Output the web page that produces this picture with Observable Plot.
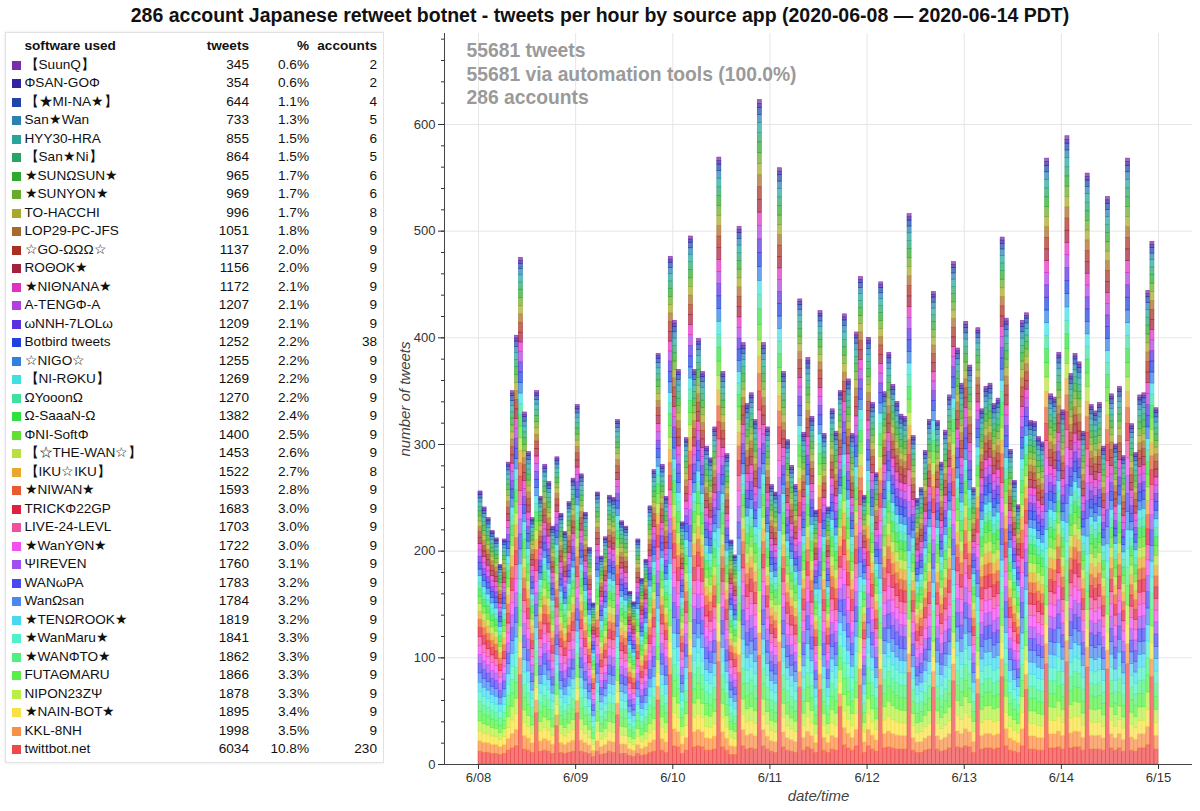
<!DOCTYPE html>
<html><head><meta charset="utf-8">
<script src="https://cdn.jsdelivr.net/npm/d3@7"></script>
<script src="https://cdn.jsdelivr.net/npm/@observablehq/plot@0.6"></script>
<style>
html,body{margin:0;padding:0;background:#fff;}
body{width:1200px;height:811px;position:relative;overflow:hidden;font-family:"Liberation Sans",Arial,Helvetica,sans-serif;color:#111;}
#title{position:absolute;left:0;top:4px;width:1200px;text-align:center;font-weight:bold;font-size:19.5px;line-height:22px;color:#111;}
#legend{position:absolute;left:5px;top:32px;width:379px;height:731px;border:1px solid #e2e2e2;box-sizing:border-box;box-shadow:0 0 3px rgba(0,0,0,0.10);font-size:13.6px;}
.row{position:absolute;left:0;width:100%;height:18.5px;line-height:18.5px;white-space:nowrap;}
.sw{position:absolute;left:6px;top:5px;width:9px;height:9px;}
.nm{position:absolute;left:18.5px;}
.tw{position:absolute;right:134px;}
.pc{position:absolute;right:74px;}
.ac{position:absolute;right:6px;}
.hd{font-weight:bold;}
#chart{position:absolute;left:384px;top:28px;}
</style>
</head><body>
<div id="title"></div>
<div id="legend"></div>
<div id="chart"></div>
<script>
// ---------- data ----------
const titleText = "286 account Japanese retweet botnet - tweets per hour by source app (2020-06-08 \u2014 2020-06-14 PDT)";
const sources = ["【SuunQ】","ΦSAN-GOΦ","【★MI-NA★】","San★Wan","HYY30-HRA","【San★Ni】","★SUNΩSUN★","★SUNYON★","TO-HACCHI","LOP29-PC-JFS","☆GO-ΩΩΩ☆","ROΘOK★","★NIΘNANA★","A-TENGΦ-A","ωNNH-7LOLω","Botbird tweets","☆NIGO☆","【NI-RΘKU】","ΩYooonΩ","Ω-SaaaN-Ω","ΦNI-SoftΦ","【☆THE-WAN☆】","【IKU☆IKU】","★NIWAN★","TRICKΦ22GP","LIVE-24-LEVL","★WanYΘN★","ΨIREVEN","WANωPA","WanΩsan","★TENΩROOK★","★WanMaru★","★WANΦTO★","FUTAΘMARU","NIPON23ZΨ","★NAIN-BOT★","KKL-8NH","twittbot.net"];
const tweets = [345,354,644,733,855,864,965,969,996,1051,1137,1156,1172,1207,1209,1252,1255,1269,1270,1382,1400,1453,1522,1593,1683,1703,1722,1760,1783,1784,1819,1841,1862,1866,1878,1895,1998,6034];
const accounts = [2,2,4,5,6,5,6,6,8,9,9,9,9,9,9,38,9,9,9,9,9,9,8,9,9,9,9,9,9,9,9,9,9,9,9,9,9,230];
const colors = ["#7a2ea8","#3420a2","#1f45a6","#2a80b0","#26a69a","#2aa366","#2ea82e","#6aaa2a","#a8a82a","#a86a2a","#a83022","#a3203f","#e030c0","#b040e0","#5a30e0","#2040e0","#3080e0","#40e0e0","#40e0a0","#30e040","#60e030","#b8e040","#e8a830","#e85a30","#e02040","#f050a0","#f050f0","#a050f0","#4848f0","#4888f0","#48d8f0","#50f0c8","#50f080","#58f048","#b8f048","#f8e048","#f89048","#f04848"];
const totalAccounts = 286;
// tweets per hour (all apps), 2020-06-08 00:00 .. 2020-06-14 23:00 PDT
const hourlyTotals = [
 256,241,231,219,212,187,211,283,350,402,475,330,293,231,350,251,281,265,223,288,235,218,246,268,
 337,272,236,203,151,255,195,213,252,250,323,228,223,162,152,211,174,192,242,276,385,281,251,476,
 416,370,227,306,495,370,399,368,298,287,316,569,368,291,210,196,504,395,338,348,323,623,395,316,
 262,255,559,368,304,280,262,436,311,381,326,238,425,310,241,333,312,350,422,361,310,405,457,252,
 400,339,273,452,349,386,356,340,328,326,516,308,249,259,294,323,443,322,283,313,346,471,390,357,
 415,374,259,409,333,354,357,338,343,494,418,295,266,243,416,423,322,321,307,302,568,347,344,386,
 332,589,366,385,377,312,554,337,331,339,298,532,347,300,354,289,568,319,292,346,348,444,490,334
];
// twittbot.net part of each hour (bottom red segment; tall on its periodic spikes)
const twittbotHourly = [
 12,11,11,10,10,9,10,13,15,17,84,14,13,11,48,12,13,12,10,36,11,10,11,12,
 48,12,11,10,7,12,9,10,12,11,46,10,10,8,7,10,8,9,11,12,60,13,11,84,
 17,16,10,13,86,16,17,16,13,13,14,96,16,13,9,9,86,17,14,15,14,102,17,14,
 12,11,96,16,13,12,11,72,13,16,14,11,70,13,11,14,13,54,18,15,13,17,74,11,
 17,14,12,74,15,16,15,14,14,14,86,13,11,11,13,14,72,14,12,13,15,78,16,15,
 17,16,11,66,14,15,15,14,15,82,17,13,12,11,17,70,14,14,13,13,94,15,15,16,
 14,96,15,16,16,13,91,14,14,14,13,89,15,13,15,12,94,13,12,15,15,18,82,14
];
const dayTickLabels = ["6/08","6/09","6/10","6/11","6/12","6/13","6/14","6/15"];
const yMajorTicks = [0,100,200,300,400,500,600];
const yMinorTicks = d3.range(0, 681, 20);

// ---------- header / legend table ----------
document.getElementById("title").textContent = titleText;
const totalTweets = d3.sum(tweets);
const pct = v => (Math.floor(v * 1000 / totalTweets) / 10).toFixed(1) + "%";
const leg = document.getElementById("legend");
function addRow(top, cells, header) {
  const r = document.createElement("div");
  r.className = "row" + (header ? " hd" : "");
  r.style.top = top + "px";
  r.innerHTML = cells;
  leg.appendChild(r);
}
addRow(4.25, '<span class="nm">software used</span><span class="tw">tweets</span><span class="pc">%</span><span class="ac">accounts</span>', true);
sources.forEach((s, i) => {
  addRow(22.75 + 18.5 * i,
    `<span class="sw" style="background:${colors[i]}"></span><span class="nm"></span><span class="tw">${tweets[i]}</span><span class="pc">${pct(tweets[i])}</span><span class="ac">${accounts[i]}</span>`);
  leg.lastChild.querySelector(".nm").textContent = s;
});

// ---------- chart ----------
const nHours = hourlyTotals.length;
const tbName = "twittbot.net";
const otherTotal = totalTweets - tweets[sources.indexOf(tbName)];
const stackOrder = sources.slice().reverse(); // bottom of stack = last row of the table
const segs = [];
hourlyTotals.forEach((t, h) => {
  const tb = twittbotHourly[h];
  stackOrder.forEach(s => {
    const i = sources.indexOf(s);
    const v = s === tbName ? tb : (t - tb) * tweets[i] / otherTotal;
    segs.push({x1: h, x2: h + 1, source: s, value: v});
  });
});
const dayTicks = dayTickLabels.map((d, i) => i * 24);
const pad = nHours * 0.05;
const xDomain = [-pad, nHours + pad];
const yMax = d3.max(hourlyTotals) * 1.1;
const annot = `${totalTweets} tweets\n${totalTweets} via automation tools (${(100).toFixed(1)}%)\n${totalAccounts} accounts`;

const chart = Plot.plot({
  width: 816, height: 783,
  marginLeft: 60, marginRight: 8, marginTop: 5, marginBottom: 47,
  style: {fontFamily: "'Liberation Sans', Arial, sans-serif", fontSize: "13px", color: "#333", background: "#fff"},
  x: {type: "linear", domain: xDomain},
  y: {domain: [0, yMax]},
  color: {domain: sources, range: colors},
  marks: [
    Plot.gridY(yMajorTicks.filter(d => d > 0), {stroke: "#e6e6e6", strokeOpacity: 1}),
    Plot.gridX(dayTicks, {stroke: "#e6e6e6", strokeOpacity: 1}),
    Plot.rectY(segs, {x1: "x1", x2: "x2", y: "value", fill: "source", stroke: "source", fillOpacity: 0.72, strokeWidth: 0.6, strokeOpacity: 0.9}),
    Plot.ruleY([0], {stroke: "#444"}),
    Plot.ruleX([xDomain[0]], {stroke: "#444"}),
    Plot.axisY({ticks: yMajorTicks, tickSize: 6, tickPadding: 3, label: null, fontSize: 13}),
    Plot.axisY({ticks: yMinorTicks, tickSize: 3, tickFormat: () => "", label: null}),
    Plot.axisX({ticks: dayTicks, tickSize: 5, tickPadding: 3, tickFormat: d => dayTickLabels[dayTicks.indexOf(d)], label: null, fontSize: 13}),
    Plot.text(["number of tweets"], {frameAnchor: "left", dx: -39, rotate: -90, textAnchor: "middle", fontStyle: "italic", fontSize: 15, fill: "#444"}),
    Plot.text(["date/time"], {frameAnchor: "bottom", dy: 36, textAnchor: "middle", fontStyle: "italic", fontSize: 15, fill: "#444"}),
    Plot.text([annot], {frameAnchor: "top-left", dx: 22, dy: 7, lineAnchor: "top", textAnchor: "start", fontSize: 19.3, fontWeight: "bold", fill: "#9a9a9a", lineHeight: 1.22})
  ]
});
document.getElementById("chart").appendChild(chart);
</script>
</body></html>
